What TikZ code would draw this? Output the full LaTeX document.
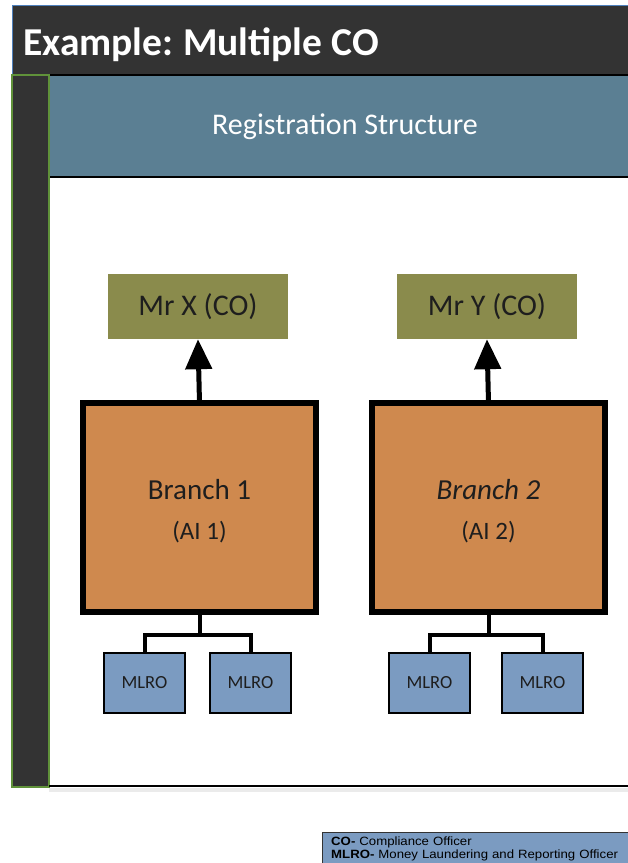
\documentclass[tikz,border=0pt]{standalone}
\usepackage{fontspec}
\setmainfont{Carlito}
\newfontfamily\legendfont[FakeStretch=1.1]{Liberation Sans}
\usetikzlibrary{arrows.meta,positioning}
\definecolor{darkbar}{RGB}{51,51,51}
\definecolor{frameblue}{RGB}{79,129,189}
\definecolor{stripgreen}{RGB}{96,146,58}
\definecolor{headerblue}{RGB}{91,127,147}
\definecolor{coolive}{RGB}{138,139,76}
\definecolor{branchorange}{RGB}{207,137,78}
\definecolor{mlroblue}{RGB}{123,155,193}
\definecolor{inktext}{RGB}{30,30,30}
\newcommand{\lowline}[1]{\raisebox{-3.5pt}[\height][\depth]{#1}}
\tikzset{
  cobox/.style={fill=coolive, minimum width=180pt, minimum height=65pt, inner sep=0pt,
    text=inktext, font=\fontsize{30}{32}\selectfont},
  branchbox/.style={draw=black, line width=6pt, fill=branchorange, minimum width=233pt,
    minimum height=209pt, inner sep=0pt, outer sep=0pt, align=center, text=inktext},
  mlrobox/.style={draw=black, line width=2.5pt, fill=mlroblue, minimum width=81pt,
    minimum height=60pt, inner sep=0pt, outer sep=0pt, text=inktext,
    font=\fontsize{18.5}{20}\selectfont},
  uparrow/.style={line width=5pt, -{Triangle[length=30pt,width=26pt]}},
  treeline/.style={line width=4pt, line join=miter},
}
\begin{document}
\begin{tikzpicture}[x=1pt,y=-1pt]
    \useasboundingbox (0,0) rectangle (628,863);
    \clip (0,0) rectangle (628,863);
    % frame
    \draw[fill=darkbar, draw=frameblue, line width=1pt] (12,5) rectangle (640,75);
    \node[anchor=base west, inner sep=0pt, text=white, font=\fontsize{39.5}{42}\selectfont\bfseries] (title) at (23,55) {Example:\hspace{-2pt} Multiple CO};
    \fill[headerblue] (49,75) rectangle (640,177);
    \draw[line width=2pt] (49,75) -- (640,75);
    \draw[line width=2pt] (49,177) -- (640,177);
    \node[text=white, font=\fontsize{30}{32}\selectfont] (header) at (345,127) {Registration Structure};
    \draw[fill=darkbar, draw=stripgreen, line width=1.5pt] (12,75) rectangle (49,787);
    \draw[black!8, line width=4pt] (49,790) -- (640,790);
    \draw[line width=2pt] (49,786) -- (640,786);
    % compliance officers
    \node[cobox] (cox) at (198,306.5) {Mr X (CO)};
    \node[cobox] (coy) at (487,306.5) {Mr Y (CO)};
    % branches
    \node[branchbox] (br1) at (199.5,507.5) {\fontsize{29}{30}\selectfont\lowline{Branch 1}\\[21pt]\fontsize{25}{26}\selectfont\lowline{(AI 1)}};
    \node[branchbox] (br2) at (488.5,507.5) {\fontsize{29}{30}\selectfont\lowline{\itshape Branch 2}\\[21pt]\fontsize{25}{26}\selectfont\lowline{(AI 2)}};
    \draw[uparrow] (br1.north) -- (cox.south);
    \draw[uparrow] (br2.north) -- (coy.south);
    % MLROs
    \node[mlrobox] (ml1) at (144.5,683) {MLRO};
    \node[mlrobox] (ml2) at (250.5,683) {MLRO};
    \node[mlrobox] (ml3) at (429.5,683) {MLRO};
    \node[mlrobox] (ml4) at (542.5,683) {MLRO};
    \draw[treeline] (br1.south) -- ++(0,23) -| (ml1.north);
    \draw[treeline] (br1.south) -- ++(0,23) -| (ml2.north);
    \draw[treeline] (br2.south) -- ++(0,23) -| (ml3.north);
    \draw[treeline] (br2.south) -- ++(0,23) -| (ml4.north);
    % legend
    \draw[fill=mlroblue, draw=darkbar, line width=0.8pt] (322,832) rectangle (640,875);
    \node[anchor=north west, inner sep=0pt, text width=300pt, align=left, text=black,
      font=\legendfont\fontsize{12}{13}\selectfont] (legend) at (331,836.2)
      {\textbf{CO-} Compliance Officer\\ \textbf{MLRO-} Money Laundering and Reporting Officer};
\end{tikzpicture}
\end{document}
